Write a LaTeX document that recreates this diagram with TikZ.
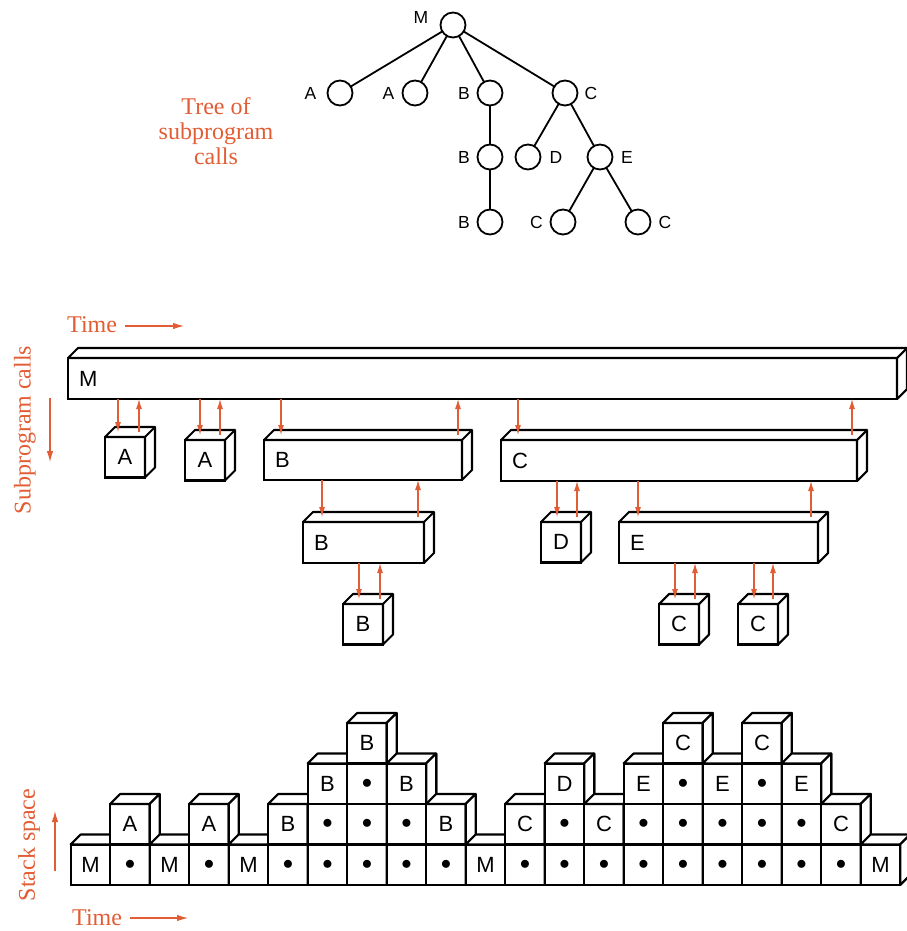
\documentclass[tikz,border=0pt]{standalone}
\usepackage{fontspec}
\newfontfamily\labelfont{Liberation Sans}
\newfontfamily\axisfont{Liberation Serif}
\usetikzlibrary{arrows.meta, calc, positioning}
\definecolor{callorange}{RGB}{226,92,52}
\newcommand{\dep}{10}
\newcommand{\dt}{$\bullet$}
\tikzset{
  treenode/.style={
    circle, draw, line width=1.8pt, minimum size=25pt,
    inner sep=0pt, outer sep=0pt
  },
  treetext/.style={
    font=\labelfont\fontsize{17.5}{17.5}\selectfont, inner sep=0pt
  },
  treeedge/.style={line width=1.8pt},
  callfront/.style={
    draw, fill=white, line width=2.1pt, inner sep=0pt, outer sep=0pt,
    anchor=north west, font=\labelfont\fontsize{22}{22}\selectfont
  },
  callface/.style={draw, fill=white, line width=2.1pt, line join=round},
  calltext/.style={
    font=\labelfont\fontsize{22}{22}\selectfont, inner sep=0pt
  },
  stackcell/.style={
    draw, fill=white, line width=2.1pt, inner sep=0pt, outer sep=0pt,
    minimum width=39.5pt, minimum height=40.5pt, anchor=south west,
    font=\labelfont\fontsize{22}{22}\selectfont
  },
  callarrow/.style={
    -{Latex[length=10pt,width=6pt]}, draw=callorange, line width=1.1pt
  },
  axisarrow/.style={
    -{Latex[length=11pt,width=6.5pt]}, draw=callorange, line width=1.1pt
  },
  axislabel/.style={
    text=callorange, font=\axisfont\fontsize{24}{25}\selectfont,
    align=center, inner sep=0pt
  },
}
% top and right faces of a front node
\newcommand{\callfaces}[1]{%
  \draw[callface] (#1.north west) -- ++(\dep,-\dep)
    -- ($(#1.north east)+(\dep,-\dep)$) -- ($(#1.south east)+(\dep,-\dep)$)
    -- (#1.south east) -- (#1.north east) -- cycle;
  \draw[callface] (#1.north east) -- ++(\dep,-\dep);
}
% long box, name at its left
\newcommand{\callbar}[6]{%
  \node[callfront, minimum width=#4pt, minimum height=#5pt] (#1) at (#2,#3) {};
  \callfaces{#1}
  \node[calltext, anchor=west] (#1-text) at ([xshift=11pt]#1.west) {#6};
}
% small cube, name centred
\newcommand{\callcube}[4]{%
  \node[callfront, minimum width=40pt, minimum height=40.5pt] (#1) at (#2,#3) {#4};
  \callfaces{#1}
}
% call and return arrows
\newcommand{\callpair}[4]{%
  \draw[callarrow] (#1.south -| #3,0) -- ($(#2.north -| #3,0)+(0,-5)$);
  \draw[callarrow] ($(#2.north -| #4,0)+(0,-5)$) -- (#1.south -| #4,0);
}

\begin{document}
\begin{tikzpicture}[x=1pt, y=-1pt]

  \useasboundingbox (0,0) rectangle (906,931);

  %% Tree of calls
  \node[axislabel] (treetitle) at (216,131) {Tree of\\subprogram\\calls};

  \node[treenode] (m) at (453,25) {};
  \node[treenode] (a1) at (340,93) {};
  \node[treenode] (a2) at (415,93) {};
  \node[treenode] (b1) at (490,93) {};
  \node[treenode] (c1) at (565,93) {};
  \node[treenode] (b2) at (490,157) {};
  \node[treenode] (d1) at (528,157) {};
  \node[treenode] (e1) at (600,157) {};
  \node[treenode] (b3) at (490,222) {};
  \node[treenode] (c2) at (563,222) {};
  \node[treenode] (c3) at (638,222) {};

  \node[treetext, left=12pt of m, yshift=8pt] (m-name) {M};
  \node[treetext, left=11pt of a1] (a1-name) {A};
  \node[treetext, left=8pt of a2] (a2-name) {A};
  \node[treetext, left=7.5pt of b1] (b1-name) {B};
  \node[treetext, right=7pt of c1] (c1-name) {C};
  \node[treetext, left=7.5pt of b2] (b2-name) {B};
  \node[treetext, right=9pt of d1] (d1-name) {D};
  \node[treetext, right=8.5pt of e1] (e1-name) {E};
  \node[treetext, left=7.5pt of b3] (b3-name) {B};
  \node[treetext, left=7.5pt of c2] (c2-name) {C};
  \node[treetext, right=8pt of c3] (c3-name) {C};

  \foreach \p/\q in {m/a1, m/a2, m/b1, m/c1, b1/b2, b2/b3, c1/d1, c1/e1, e1/c2, e1/c3}
    \draw[treeedge] (\p) -- (\q);

  %% Calls over time
  \node[axislabel, anchor=west] (time1) at (67,325) {Time};
  \coordinate (time1end) at (184,326);
  \draw[axisarrow] ([xshift=8pt]time1.east |- time1end) -- (time1end);

  \node[axislabel, rotate=90] (calls) at (25,430) {Subprogram calls};
  \coordinate (callsfrom) at (50,398);
  \coordinate (callsto) at (50,462);
  \draw[axisarrow] (callsfrom) -- (callsto);

  \callbar{bm}{68}{358}{829}{41}{M}
  \callcube{ba1}{105}{437}{A}
  \callcube{ba2}{185}{440}{A}
  \callbar{bb1}{264}{440}{198}{40}{B}
  \callbar{bc1}{501}{440}{356}{41}{C}
  \callbar{bb2}{303}{522}{121}{41}{B}
  \callcube{bd1}{541}{522}{D}
  \callbar{be1}{619}{522}{199}{41}{E}
  \callcube{bb3}{343}{604}{B}
  \callcube{bc2}{659}{604}{C}
  \callcube{bc3}{738}{604}{C}

  \callpair{bm}{ba1}{118}{139}
  \callpair{bm}{ba2}{200}{220}
  \callpair{bm}{bb1}{281}{458}
  \callpair{bm}{bc1}{518}{852}
  \callpair{bb1}{bb2}{322}{418}
  \callpair{bb2}{bb3}{359}{380}
  \callpair{bc1}{bd1}{557}{577}
  \callpair{bc1}{be1}{638}{811}
  \callpair{be1}{bc2}{675}{695}
  \callpair{be1}{bc3}{754}{773}

  %% Stack space over time
  \node[axislabel, rotate=90] (stack) at (29,845) {Stack space};
  \coordinate (stackfrom) at (55,871);
  \coordinate (stackto) at (55,811);
  \draw[axisarrow] (stackfrom) -- (stackto);

  \node[axislabel, anchor=west] (time2) at (72,918) {Time};
  \coordinate (time2end) at (188,918);
  \draw[axisarrow] ([xshift=8pt]time2.east |- time2end) -- (time2end);

  \foreach \h/\cells [count=\c from 0] in {1/{M}, 2/{\dt,A}, 1/{M}, 2/{\dt,A},
      1/{M}, 2/{\dt,B}, 3/{\dt,\dt,B}, 4/{\dt,\dt,\dt,B}, 3/{\dt,\dt,B},
      2/{\dt,B}, 1/{M}, 2/{\dt,C}, 3/{\dt,\dt,D}, 2/{\dt,C}, 3/{\dt,\dt,E},
      4/{\dt,\dt,\dt,C}, 3/{\dt,\dt,E}, 4/{\dt,\dt,\dt,C}, 3/{\dt,\dt,E},
      2/{\dt,C}, 1/{M}} {
    \foreach \l [count=\r from 0] in \cells
      \node[stackcell] (s\c-\r) at ({70.7+\c*39.5}, {885-\r*40.5}) {\l};
    \pgfmathtruncatemacro\toprow{\h-1}
    \callfaces{s\c-\toprow}
    % right face down to the ground row
    \draw[callface] (s\c-\toprow.north east) -- ++(\dep,-\dep)
      -- ($(s\c-0.south east)+(\dep,-\dep)$) -- (s\c-0.south east) -- cycle;
  }

\end{tikzpicture}
\end{document}
